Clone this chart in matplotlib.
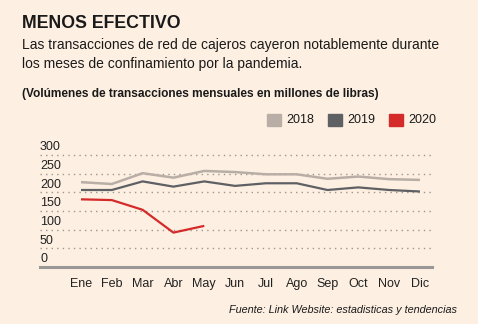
import numpy as np
import matplotlib.pyplot as plt
import matplotlib.transforms as mtransforms
from matplotlib.patches import Rectangle

plt.rcParams['font.family'] = ['Liberation Sans', 'DejaVu Sans']

meses = ['Ene', 'Feb', 'Mar', 'Abr', 'May', 'Jun', 'Jul', 'Ago', 'Sep', 'Oct', 'Nov', 'Dic']
v2018 = [227, 222, 251, 239, 257, 254, 248, 248, 236, 242, 235, 233]
v2019 = [206, 206, 229, 215, 229, 217, 224, 224, 206, 213, 206, 202]
v2020 = [181, 179, 153, 92, 110]
yticks = [0, 50, 100, 150, 200, 250, 300]

fondo = '#fdf0e2'
c18 = '#b8aea6'
c19 = '#5f6064'
c20 = '#d42a2a'

fig = plt.figure(figsize=(4.78, 3.24), dpi=100, facecolor=fondo)
ax = fig.add_axes([0.0837, 0.176, 0.820, 0.361])
ax.set_facecolor(fondo)

x = np.arange(len(meses))
ax.plot(x, v2018, color=c18, lw=1.8, solid_capstyle='butt')
ax.plot(x, v2019, color=c19, lw=1.6, solid_capstyle='butt')
ax.plot(x[:len(v2020)], v2020, color=c20, lw=1.6, solid_capstyle='butt')

ax.set_xlim(-1.33, 11.39)
ax.set_ylim(0, 313)

# lineas de fondo punteadas
for v in yticks[1:]:
    ax.axhline(v, color='#9d968e', lw=1.0, ls=(0, (1, 3)), zorder=0)
ax.axhline(0, color='#9a9896', lw=2.2, zorder=3, clip_on=False)

for s in ax.spines.values():
    s.set_visible(False)
ax.set_yticks([])
ax.set_xticks(x)
ax.set_xticklabels(meses, fontsize=9, color='#222222')
ax.tick_params(axis='x', length=0, pad=8)

tr = mtransforms.blended_transform_factory(ax.transAxes, ax.transData)
for v in yticks:
    ax.text(0.0, v + 4, str(v), transform=tr, fontsize=9, color='#222222',
            ha='left', va='bottom')

# titulos
fig.text(0.046, 1 - 28 / 324, 'MENOS EFECTIVO', fontsize=12.8, fontweight='bold',
         color='#1a1a1a')
fig.text(0.046, 1 - 49 / 324, 'Las transacciones de red de cajeros cayeron notablemente durante',
         fontsize=10, color='#1a1a1a')
fig.text(0.046, 1 - 68 / 324, 'los meses de confinamiento por la pandemia.',
         fontsize=10, color='#1a1a1a')
fig.text(0.046, 1 - 97 / 324, '(Volúmenes de transacciones mensuales en millones de libras)',
         fontsize=8.6, fontweight='bold', color='#1a1a1a')

# leyenda
for xs, col, lab in [(267, c18, '2018'), (328, c19, '2019'), (389, c20, '2020')]:
    fig.patches.append(Rectangle((xs / 478, 1 - 126 / 324), 14 / 478, 12 / 324,
                                 transform=fig.transFigure, color=col))
    fig.text((xs + 19) / 478, 1 - 120 / 324, lab, fontsize=9, va='center',
             color='#1a1a1a')

fig.text(0.957, 0.035, 'Fuente: Link Website: estadisticas y tendencias',
         fontsize=7.8, style='italic', ha='right', color='#1a1a1a')

plt.savefig('out.png', dpi=100, facecolor=fondo)
